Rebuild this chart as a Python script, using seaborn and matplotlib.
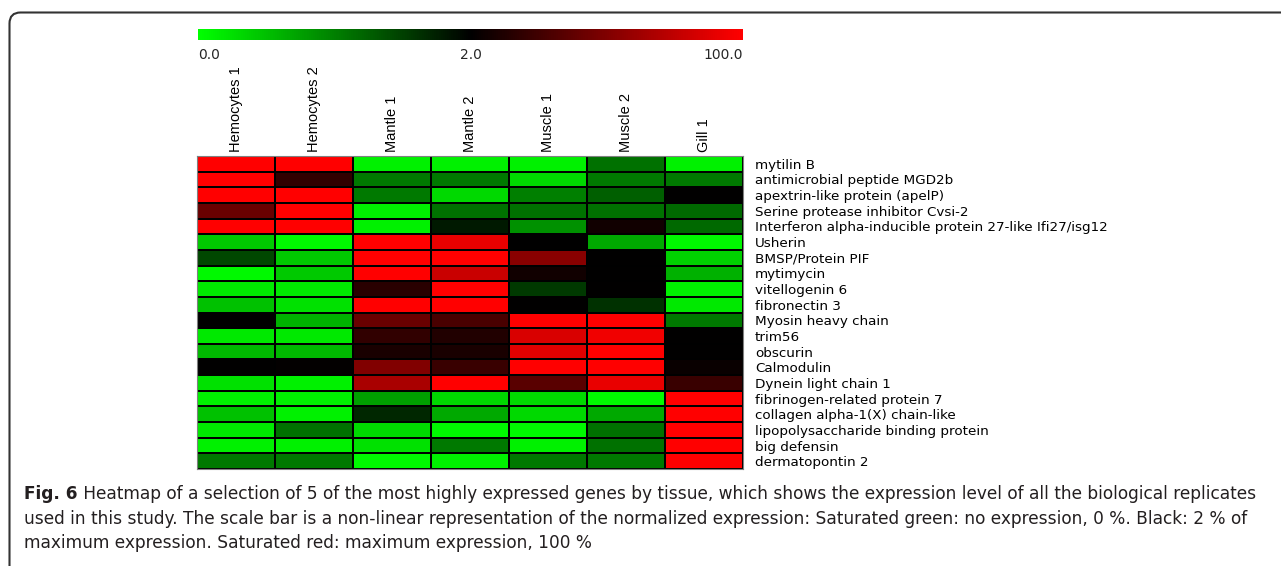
import matplotlib
matplotlib.use('Agg')
import matplotlib.pyplot as plt
import seaborn as sns
import pandas as pd
import numpy as np
from matplotlib.colors import LinearSegmentedColormap, TwoSlopeNorm
from matplotlib.patches import FancyBboxPatch
from matplotlib.transforms import IdentityTransform

# normalized expression (% of maximum)
genes = ['mytilin B', 'antimicrobial peptide MGD2b', 'apextrin-like protein (apelP)',
         'Serine protease inhibitor Cvsi-2',
         'Interferon alpha-inducible protein 27-like Ifi27/isg12', 'Usherin',
         'BMSP/Protein PIF', 'mytimycin', 'vitellogenin 6', 'fibronectin 3',
         'Myosin heavy chain', 'trim56', 'obscurin', 'Calmodulin', 'Dynein light chain 1',
         'fibrinogen-related protein 7', 'collagen alpha-1(X) chain-like',
         'lipopolysaccharide binding protein', 'big defensin', 'dermatopontin 2']
tissues = ['Hemocytes 1', 'Hemocytes 2', 'Mantle 1', 'Mantle 2', 'Muscle 1', 'Muscle 2', 'Gill 1']

hemocytes_1 = [100, 100, 100, 42.0, 100, 0.43, 1.44, 0.05, 0.18, 0.49,
               2.0, 0.18, 0.56, 2.0, 0.24, 0.12, 0.49, 0.18, 0.12, 1.06]
hemocytes_2 = [100, 20.4, 100, 100, 100, 0.05, 0.43, 0.43, 0.18, 0.24,
               0.62, 0.18, 0.56, 3.5, 0.12, 0.12, 0.12, 1.12, 0.12, 1.06]
mantle_1 = [0.12, 1.06, 1.06, 0.12, 0.12, 100, 100, 100, 17.4, 100,
            42.0, 20.4, 11.2, 51.2, 66.6, 0.75, 1.69, 0.31, 0.24, 0.05]
mantle_2 = [0.12, 1.06, 0.31, 1.12, 1.81, 91.2, 100, 78.9, 100, 100,
            29.7, 14.3, 11.2, 23.5, 100, 0.31, 0.68, 0.05, 1.06, 0.12]
muscle_1 = [0.12, 0.31, 1.0, 1.12, 0.87, 2.0, 54.3, 8.15, 1.56, 2.0,
            100, 85.0, 88.1, 100, 35.8, 0.31, 0.31, 0.05, 0.12, 1.06]
muscle_2 = [1.12, 1.06, 1.25, 1.12, 8.15, 0.68, 2.0, 2.0, 2.0, 1.62,
            100, 94.2, 100, 100, 91.2, 0.05, 0.68, 1.12, 1.12, 1.06]
gill_1 = [0.12, 1.06, 2.0, 1.18, 1.18, 0.05, 0.37, 0.62, 0.12, 0.18,
          1.06, 2.0, 2.0, 5.1, 23.5, 100, 100, 100, 100, 100]

scale_ticks = [0.0, 2.0, 100.0]

df = pd.DataFrame({'Hemocytes 1': hemocytes_1, 'Hemocytes 2': hemocytes_2,
                   'Mantle 1': mantle_1, 'Mantle 2': mantle_2,
                   'Muscle 1': muscle_1, 'Muscle 2': muscle_2, 'Gill 1': gill_1},
                  index=genes)[tissues]

sns.set_style('white')
plt.rcParams['font.family'] = ['DejaVu Sans']

W, H = 1281, 566
fig = plt.figure(figsize=(W / 100, H / 100), dpi=100)

# green -> black -> red, black at 2 %
cmap = LinearSegmentedColormap.from_list('gbr', ['#00ff00', '#000000', '#ff0000'])
norm = TwoSlopeNorm(vmin=scale_ticks[0], vcenter=scale_ticks[1], vmax=scale_ticks[2])

ax = fig.add_axes([197 / W, 1 - 469 / H, (743 - 197) / W, (469 - 156) / H])
cax = fig.add_axes([198 / W, 1 - 40 / H, (743 - 198) / W, 11 / H])

sns.heatmap(df, cmap=cmap, norm=norm, linewidths=1.3, linecolor='black',
            ax=ax, cbar_ax=cax, cbar_kws={'orientation': 'horizontal'})

ax.xaxis.tick_top()
ax.set_xticklabels(tissues, rotation=90, fontsize=10.5, color='black',
                   family=['Liberation Sans', 'DejaVu Sans'])
ax.set_yticklabels(genes, rotation=0, fontsize=9.7, color='black')
ax.yaxis.tick_right()
ax.tick_params(axis='x', length=0, pad=3)
ax.tick_params(axis='y', length=0, pad=8.5)
ax.set_xlabel('')
ax.set_ylabel('')
for sp in ax.spines.values():
    sp.set_visible(True)
    sp.set_color('#808080')
    sp.set_linewidth(0.8)

cbar = ax.collections[0].colorbar
cbar.set_ticks([])
cbar.outline.set_visible(False)
for xpos, val, ha in zip([0, 0.5, 1], scale_ticks, ['left', 'center', 'right']):
    cax.text(xpos, -0.7, f'{val:.1f}', transform=cax.transAxes, ha=ha, va='top', fontsize=10)

# rounded frame around the figure
frame = FancyBboxPatch((9.5, -40), 1400, H - 12.5 + 40,
                       boxstyle='round,pad=0,rounding_size=11',
                       transform=IdentityTransform(), fill=False,
                       edgecolor='#333333', linewidth=1.5)
fig.patches.append(frame)

# caption
cap_size = 12.25
cap_color = '#231f20'
lines = [' Heatmap of a selection of 5 of the most highly expressed genes by tissue, which shows the expression level of all the biological replicates',
         'used in this study. The scale bar is a non-linear representation of the normalized expression: Saturated green: no expression, 0 %. Black: 2 % of',
         'maximum expression. Saturated red: maximum expression, 100 %']
ys = [494, 519, 543]
x0 = 24 / W
t = fig.text(x0, 1 - ys[0] / H, 'Fig. 6', fontsize=cap_size,
             weight='bold', va='center', ha='left', color=cap_color)
r = fig.canvas.get_renderer()
bb = t.get_window_extent(renderer=r)
fig.text(bb.x1 / W, 1 - ys[0] / H, lines[0], fontsize=cap_size,
         va='center', ha='left', color=cap_color)
for line, y in zip(lines[1:], ys[1:]):
    fig.text(x0, 1 - y / H, line, fontsize=cap_size,
             va='center', ha='left', color=cap_color)

fig.savefig('out.png', dpi=100)
